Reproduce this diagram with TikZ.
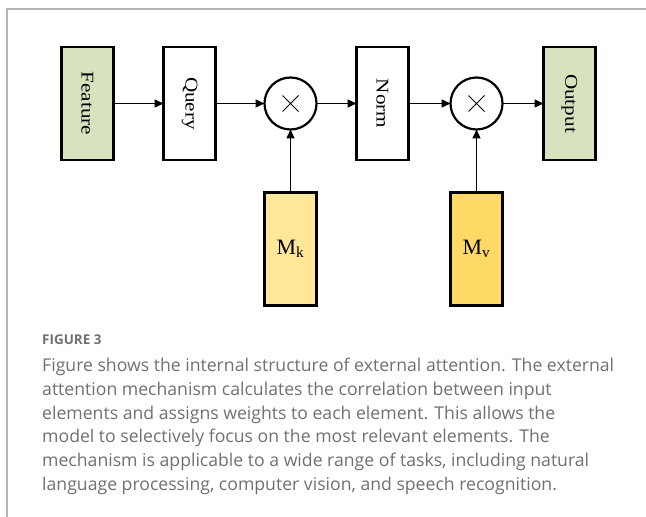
\documentclass[tikz,border=0pt]{standalone}
\usepackage{fontspec}
\setmainfont{Liberation Serif}
\newfontfamily\capfont{Open Sans}
\usepackage{xcolor}
\usepackage{tikz}
\usetikzlibrary{arrows.meta,positioning}

\definecolor{featgreen}{HTML}{D7E3BF}
\definecolor{mkyellow}{HTML}{FFE699}
\definecolor{mvyellow}{HTML}{FFD966}
\definecolor{capgray}{HTML}{707070}
\definecolor{framegray}{HTML}{B4B4B4}

% vertical label, read from top to bottom
\newcommand{\vlabel}[1]{\rotatebox{-90}{\scalebox{1.18}[1]{#1}}}

\begin{document}
\begin{tikzpicture}[
  x=1bp, y=1bp,
  font=\fontsize{18}{20}\selectfont,
  blk/.style  ={draw,line width=2.2bp,minimum width=52bp,minimum height=113bp,
                inner sep=0pt,outer sep=0pt},
  io/.style   ={blk,fill=featgreen},
  mem/.style  ={blk,font=\fontsize{22}{24}\selectfont},
  mul/.style  ={draw,circle,line width=2.2bp,minimum size=52bp,inner sep=0pt,
                outer sep=0pt,
                path picture={\draw[line width=1bp]
                  ([shift={(-8bp,-8bp)}]path picture bounding box.center) --
                  ([shift={(8bp,8bp)}]path picture bounding box.center)
                  ([shift={(-8bp,8bp)}]path picture bounding box.center) --
                  ([shift={(8bp,-8bp)}]path picture bounding box.center);}},
  captext/.style={text=capgray,inner sep=0pt,align=left},
  >={Triangle[length=9bp,width=8bp]}]

\useasboundingbox (0,0) rectangle (646,-517);

%---------------- frame ----------------
\draw[framegray,line width=1.3bp] (7,-517) -- (7,-9) -- (646,-9);

%---------------- main row ----------------
\node[io] (feat) at (87.5,-103.5) {\vlabel{Feature}};
\node[blk, right=50bp of feat]  (query) {\vlabel{Query}};
\node[mul, right=49bp of query] (mul1)  {};
\node[blk, right=40bp of mul1]  (norm)  {\vlabel{Norm}};
\node[mul, right=42bp of norm]  (mul2)  {};
\node[io, right=41bp of mul2]   (out)   {\vlabel{Output}};

%---------------- memory units ----------------
\node[mem, fill=mkyellow, below=63bp of mul1] (mk) {M\textsubscript{k}};
\node[mem, fill=mvyellow, below=63bp of mul2] (mv) {M\textsubscript{v}};

\begin{scope}[line width=1.5bp]
\draw[->] (feat)--(query); \draw[->] (query)--(mul1); \draw[->] (mul1)--(norm);
\draw[->] (norm)--(mul2);  \draw[->] (mul2)--(out);
\draw[->] (mk)--(mul1);    \draw[->] (mv)--(mul2);
\end{scope}

%---------------- caption ----------------
\node[captext, anchor=north west, font=\capfont\bfseries\fontsize{13.5}{15}\selectfont]
  (figno) at (42,-335) {FIGURE 3};
\node[captext, below=13bp of figno.south west, anchor=north west,
      font=\capfont\fontsize{17.7}{23.7}\selectfont]
  (caption) {Figure shows the internal structure of external attention. The external\\
attention mechanism calculates the correlation between input\\
elements and assigns weights to each element. This allows the\\
model to selectively focus on the most relevant elements. The\\
mechanism is applicable to a wide range of tasks, including natural\\
language processing, computer vision, and speech recognition.};

\end{tikzpicture}
\end{document}
